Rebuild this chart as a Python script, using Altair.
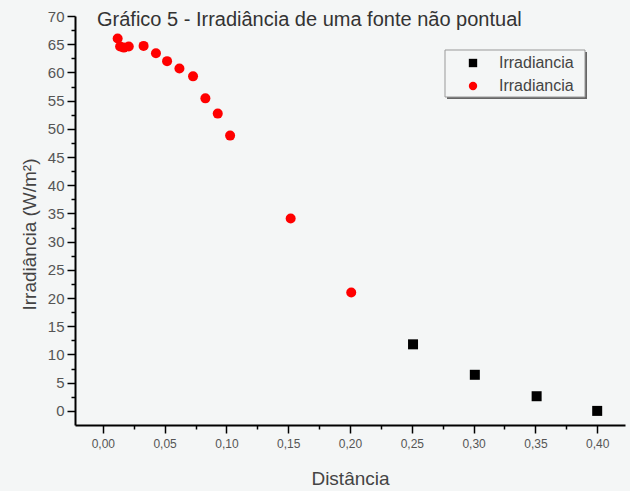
import altair as alt
import pandas as pd

title_text = "Gráfico 5 - Irradiância de uma fonte não pontual"
x_title = "Distância"
y_title = "Irradiância (W/m²)"
legend_label = "Irradiancia"

red_x = [0.012, 0.014, 0.017, 0.021, 0.033, 0.043, 0.052, 0.062, 0.073, 0.083, 0.093, 0.103, 0.152, 0.201]
red_y = [66.0, 64.6, 64.4, 64.6, 64.7, 63.4, 62.0, 60.7, 59.3, 55.4, 52.7, 48.8, 34.1, 21.0]
black_x = [0.251, 0.301, 0.351, 0.400]
black_y = [11.8, 6.4, 2.6, 0.0]

x_ticks = [round(i * 0.025, 3) for i in range(17)]
y_ticks = [i * 2.5 for i in range(29)]

df = pd.DataFrame({
    "x": black_x + red_x,
    "y": black_y + red_y,
    "series": ["b"] * len(black_x) + ["r"] * len(red_x),
})

FONT = "Liberation Sans"

x_axis = alt.Axis(
    values=x_ticks,
    labelExpr="round(datum.value*40)%2==0 ? replace(format(datum.value,'.2f'),'.',',') : ''",
    tickSize={"condition": {"test": "round(datum.value*40)%2==0", "value": 8}, "value": 4},
    domainColor="black", domainWidth=2, tickColor="black", tickWidth=1.5,
    labelFontSize=12, labelColor="#555", labelFont=FONT, labelPadding=5,
    title=x_title, titleFontSize=19, titleFontWeight="normal", titleColor="#444",
    titleFont=FONT, titlePadding=20, grid=False,
)
y_axis = alt.Axis(
    values=y_ticks,
    labelExpr="round(datum.value/2.5)%2==0 ? format(datum.value,'d') : ''",
    tickSize={"condition": {"test": "round(datum.value/2.5)%2==0", "value": 8}, "value": 4},
    domainColor="black", domainWidth=2, tickColor="black", tickWidth=1.5,
    labelFontSize=15, labelColor="#555", labelFont=FONT, labelPadding=3,
    title=y_title, titleFontSize=19, titleFontWeight="normal", titleColor="#444",
    titleFont=FONT, titlePadding=8, titleY=218, grid=False,
)

leg = alt.Legend(
    orient="none", legendX=390, legendY=39, title=None,
    labelExpr="'" + legend_label + "'",
    labelFontSize=16, labelColor="#444", labelFont=FONT,
    labelOffset=18, rowPadding=7, padding=0, symbolSize=70,
)

points = alt.Chart(df).mark_point(filled=True, opacity=1, size=100).encode(
    x=alt.X("x:Q", scale=alt.Scale(domain=[-0.0225, 0.4225], nice=False, zero=False), axis=x_axis),
    y=alt.Y("y:Q", scale=alt.Scale(domain=[-2.5, 70], nice=False, zero=False), axis=y_axis),
    color=alt.Color("series:N", scale=alt.Scale(domain=["b", "r"], range=["black", "#ff0000"]), legend=leg),
    shape=alt.Shape("series:N", scale=alt.Scale(domain=["b", "r"], range=["square", "circle"]), legend=leg),
)

one = pd.DataFrame({"t": [title_text]})

title = alt.Chart(one).mark_text(
    align="left", baseline="middle", fontSize=20, font=FONT, color="#333"
).encode(text="t:N", x=alt.value(22), y=alt.value(4))

shadow = alt.Chart(one).mark_rect(fill="#666", stroke=None).encode(
    x=alt.value(372), x2=alt.value(512), y=alt.value(36), y2=alt.value(83)
)
box = alt.Chart(one).mark_rect(fill="#f4f6f6", stroke="#999", strokeWidth=1).encode(
    x=alt.value(370), x2=alt.value(510), y=alt.value(34), y2=alt.value(81)
)

chart = alt.layer(shadow, box, points, title).properties(
    width=550, height=409,
    padding={"left": 75, "top": 16, "right": 5, "bottom": 66},
    autosize=alt.AutoSizeParams(type="none"),
).configure(background="#f4f6f6", font=FONT).configure_view(stroke=None)

chart.save("out.html", embed_options={"renderer": "svg", "actions": False})
